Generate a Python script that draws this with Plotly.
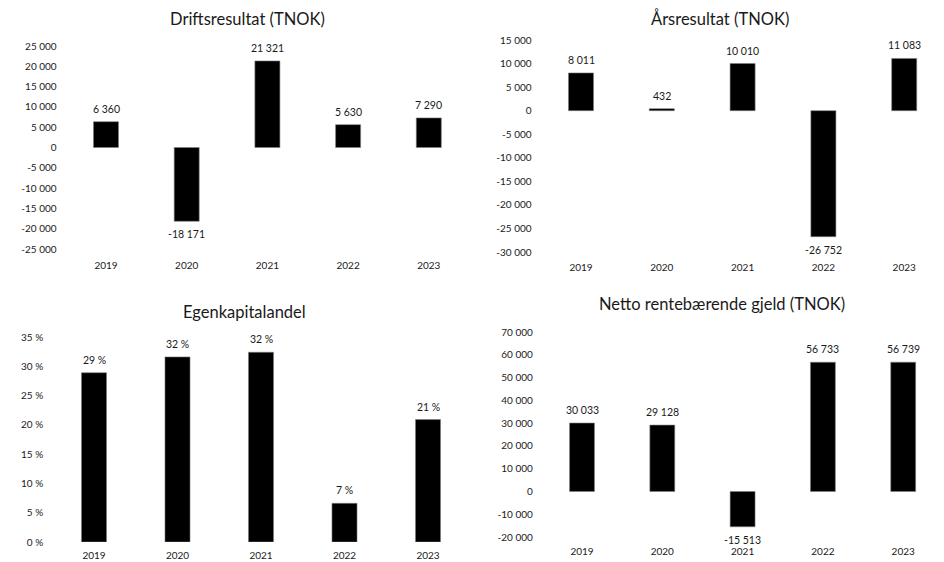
import plotly.graph_objects as go

years = ["2019", "2020", "2021", "2022", "2023"]

drift = [6360, -18171, 21321, 5630, 7290]
aars = [8011, 432, 10010, -26752, 11083]
ek = [0.289, 0.316, 0.324, 0.066, 0.209]
nrbg = [30033, 29128, -15513, 56733, 56739]

drift_ticks = [25000, 20000, 15000, 10000, 5000, 0, -5000, -10000, -15000, -20000, -25000]
aars_ticks = [15000, 10000, 5000, 0, -5000, -10000, -15000, -20000, -25000, -30000]
ek_ticks = [0.35, 0.30, 0.25, 0.20, 0.15, 0.10, 0.05, 0.0]
nrbg_ticks = [70000, 60000, 50000, 40000, 30000, 20000, 10000, 0, -10000, -20000]

titles = ["Driftsresultat (TNOK)", "Årsresultat (TNOK)", "Egenkapitalandel",
          "Netto rentebærende gjeld (TNOK)"]


def fmt_num(v):
    s = f"{abs(int(round(v))):,}".replace(",", " ")
    return ("-" if v < 0 else "") + s


def fmt_pct(v):
    return f"{int(round(v * 100))} %"


FONT = "Lato, 'Open Sans', sans-serif"
TXT = "#1a1a1a"
W, H = 944, 562


def fx(px):
    return min(max(px / W, 0.0), 1.0)


def fy(py):
    return min(max(1 - py / H, 0.0), 1.0)


fig = go.Figure()

panels = [
    # values, ticks, formatter, first-bar centre px, spacing px, y px (bottom, top),
    # y range, title px, bar width, x tick length
    (drift, drift_ticks, fmt_num, 106, 80.7, (249, 46), (-25000, 25000), (247, 19), 0.31, 7),
    (aars, aars_ticks, fmt_num, 581, 80.8, (252, 40), (-30000, 15000), (720, 18), 0.31, 6),
    (ek, ek_ticks, fmt_pct, 94, 83.5, (542, 337), (0, 0.35), (245, 312), 0.30, 4),
    (nrbg, nrbg_ticks, fmt_num, 582, 80.3, (537, 332), (-20000, 70000), (722, 304), 0.31, 5),
]

for i, (vals, ticks, f, c0, s, yr, rng, tpos, bw, xtl) in enumerate(panels):
    n = "" if i == 0 else str(i + 1)
    left_px = c0 - 0.5 * s
    right_px = min(c0 + 4.5 * s, W)
    x_range = [(left_px - c0) / s, (right_px - c0) / s]
    xs = list(range(len(years)))
    fig.add_trace(go.Bar(
        x=xs, y=vals,
        marker=dict(color="#000000", line=dict(color="#7f7f7f", width=0.6)),
        width=bw, showlegend=False, hoverinfo="skip",
        xaxis="x" + n, yaxis="y" + n,
    ))
    for xi, v in zip(xs, vals):
        fig.add_annotation(
            x=xi, y=v, xref="x" + n, yref="y" + n, text=f(v),
            showarrow=False, yanchor="middle", xanchor="center",
            yshift=13 if v >= 0 else -13,
            font=dict(family=FONT, size=10.5, color=TXT),
        )
    fig.layout["xaxis" + n] = dict(
        domain=[fx(left_px), fx(right_px)], range=x_range,
        tickvals=xs, ticktext=years,
        anchor="y" + n, showgrid=False, zeroline=False, showline=False,
        ticks="outside", ticklen=xtl, tickcolor="rgba(0,0,0,0)", automargin=False,
        tickfont=dict(family=FONT, size=10, color=TXT), fixedrange=True,
    )
    fig.layout["yaxis" + n] = dict(
        domain=[fy(yr[0]), fy(yr[1])], range=list(rng),
        tickvals=ticks, ticktext=[f(t) for t in ticks],
        anchor="x" + n, showgrid=False, zeroline=False, showline=False,
        ticks="outside", ticklen=6, tickcolor="rgba(0,0,0,0)", automargin=False,
        tickfont=dict(family=FONT, size=10, color=TXT), fixedrange=True,
    )
    fig.add_annotation(
        text=titles[i], x=fx(tpos[0]), y=fy(tpos[1]),
        xref="paper", yref="paper", xanchor="center", yanchor="middle",
        showarrow=False, font=dict(family=FONT, size=16.5, color=TXT),
    )

fig.update_layout(
    width=W, height=H, margin=dict(l=0, r=0, t=0, b=0, autoexpand=False),
    paper_bgcolor="white", plot_bgcolor="white", bargap=0.0,
)

fig.write_html(
    "out.html",
    config={"displayModeBar": False, "staticPlot": True},
    post_script="document.body.style.margin='0';document.body.style.overflow='hidden';",
)
